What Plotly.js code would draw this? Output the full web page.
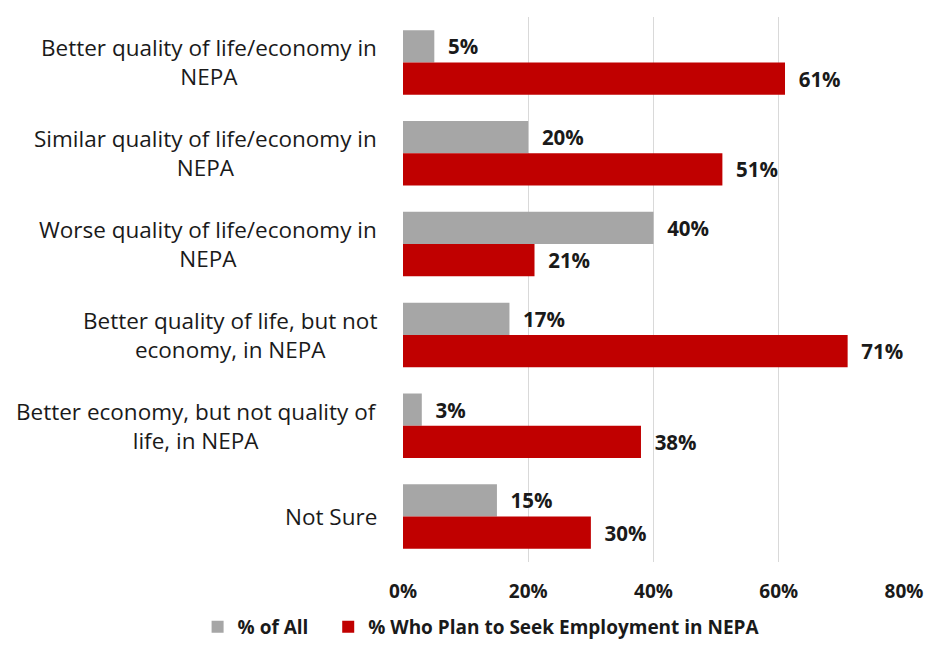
<!DOCTYPE html>
<html>
<head>
<meta charset="utf-8">
<script src="https://cdn.plot.ly/plotly-3.0.1.min.js"></script>
<style>html,body{margin:0;padding:0;background:#fff;}#chart{width:925px;height:648px;}</style>
</head>
<body>
<div id="chart"></div>
<script>
const categories = [
  "Better quality of life/economy in<br>NEPA",
  "Similar quality of life/economy in<br>NEPA",
  "Worse quality of life/economy in<br>NEPA",
  "Better quality of life, but not<br>economy, in NEPA",
  "Better economy, but not quality of<br>life, in NEPA",
  "Not Sure"
];
const catIds = ["c1","c2","c3","c4","c5","c6"];
const pctAll = [5, 20, 40, 17, 3, 15];
const pctSeek = [61, 51, 21, 71, 38, 30];
const seriesNames = ["% of All", "% Who Plan to Seek Employment in NEPA"];
const xTickVals = [0, 20, 40, 60, 80];
const xTickText = ["0%", "20%", "40%", "60%", "80%"];

const FONT = "'Open Sans', Lato, sans-serif";
const NBSP = "\u00A0";

function barTrace(name, vals, color) {
  return {
    type: "bar", orientation: "h", name: name,
    y: catIds, x: vals,
    marker: {color: color},
    text: vals.map(v => "  " + v + "%"),
    textposition: "outside", cliponaxis: false,
    textfont: {family: FONT, size: 20.5, color: "#1a1a1a", weight: "bold"},
    hoverinfo: "skip"
  };
}

const traces = [
  barTrace(seriesNames[0] + NBSP.repeat(3), pctAll, "#A6A6A6"),
  barTrace(seriesNames[1], pctSeek, "#C00000")
];

const annotations = categories.map((c, i) => ({
  xref: "paper", yref: "y", x: 0, y: catIds[i],
  xanchor: "right", yanchor: "middle", xshift: -24,
  text: c, align: "center", showarrow: false,
  font: {family: FONT, size: 22.5, color: "#1a1a1a"}
}));

const layout = {
  width: 925, height: 648,
  margin: {l: 403, r: 21, t: 17, b: 86, autoexpand: false},
  paper_bgcolor: "#fff", plot_bgcolor: "#fff",
  barmode: "group", bargap: 0.29, bargroupgap: 0,
  font: {family: FONT, color: "#1a1a1a"},
  xaxis: {
    range: [0, 80], tickvals: xTickVals, ticktext: xTickText,
    showgrid: true, gridcolor: "#D9D9D9", gridwidth: 1,
    zeroline: false, showline: false, ticks: "",
    tickfont: {family: FONT, size: 19, weight: "bold", color: "#1a1a1a"},
    ticklabelstandoff: 16, fixedrange: true
  },
  yaxis: {
    type: "category", autorange: "reversed",
    showticklabels: false, showgrid: false, zeroline: false, showline: false, ticks: ""
  },
  annotations: annotations,
  showlegend: true,
  legend: {
    orientation: "h", x: -0.41, xanchor: "left",
    y: -0.154, yanchor: "bottom",
    bgcolor: "rgba(0,0,0,0)",
    font: {family: FONT, size: 19, weight: "bold", color: "#1a1a1a"},
    itemwidth: 30, traceorder: "normal"
  }
};

Plotly.newPlot("chart", traces, layout, {displayModeBar: false, staticPlot: true});
</script>
</body>
</html>
